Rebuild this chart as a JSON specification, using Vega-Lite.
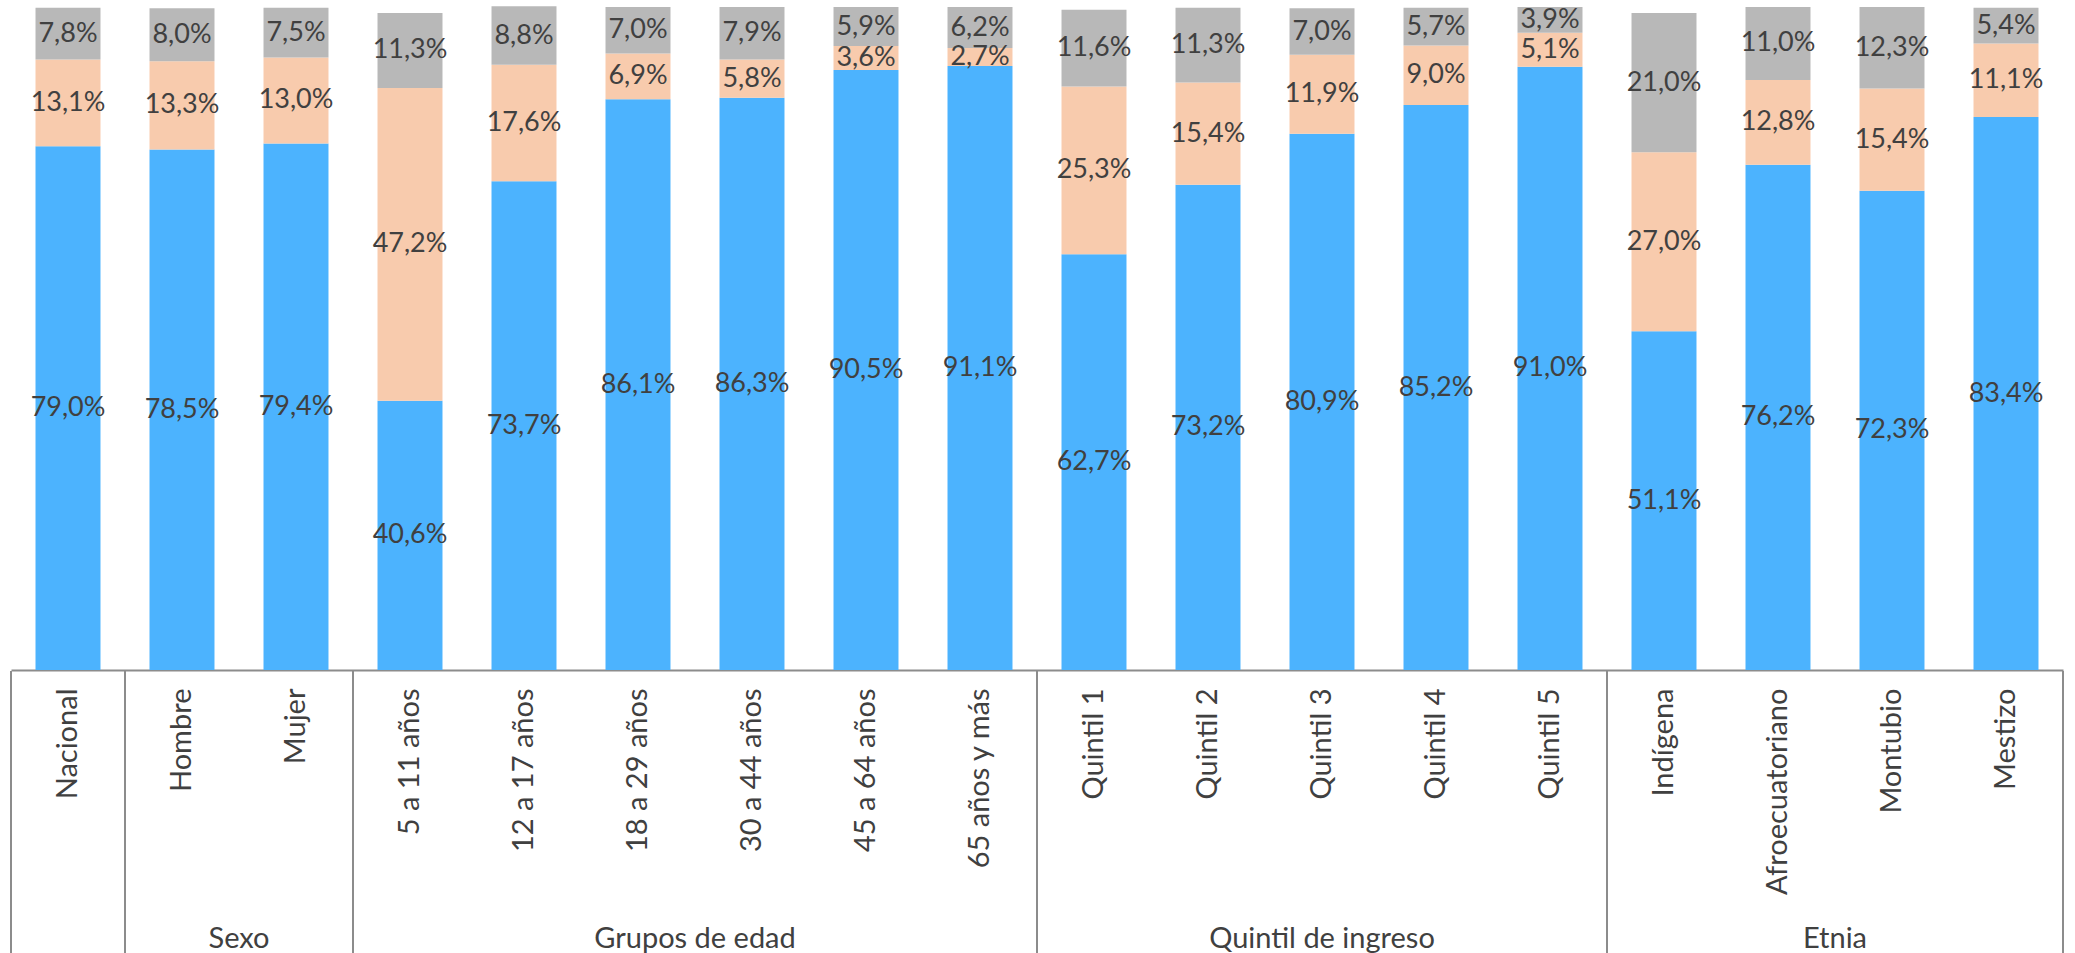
{
  "$schema": "https://vega.github.io/schema/vega-lite/v6.json",
  "padding": {"left": 10, "top": 5, "right": 13, "bottom": 0},
  "background": "white",
  "spacing": 0,
  "config": {"view": {"stroke": null}, "font": "Lato", "concat": {"spacing": 0}},
  "datasets": {
    "tabla": [
      {"categoria": "Nacional", "grupo": "", "s1": 79.0, "s2": 13.1, "s3": 7.8},
      {"categoria": "Hombre", "grupo": "Sexo", "s1": 78.5, "s2": 13.3, "s3": 8.0},
      {"categoria": "Mujer", "grupo": "Sexo", "s1": 79.4, "s2": 13.0, "s3": 7.5},
      {"categoria": "5 a 11 años", "grupo": "Grupos de edad", "s1": 40.6, "s2": 47.2, "s3": 11.3},
      {"categoria": "12 a 17 años", "grupo": "Grupos de edad", "s1": 73.7, "s2": 17.6, "s3": 8.8},
      {"categoria": "18 a 29 años", "grupo": "Grupos de edad", "s1": 86.1, "s2": 6.9, "s3": 7.0},
      {"categoria": "30 a 44 años", "grupo": "Grupos de edad", "s1": 86.3, "s2": 5.8, "s3": 7.9},
      {"categoria": "45 a 64 años", "grupo": "Grupos de edad", "s1": 90.5, "s2": 3.6, "s3": 5.9},
      {"categoria": "65 años y más", "grupo": "Grupos de edad", "s1": 91.1, "s2": 2.7, "s3": 6.2},
      {"categoria": "Quintil 1", "grupo": "Quintil de ingreso", "s1": 62.7, "s2": 25.3, "s3": 11.6},
      {"categoria": "Quintil 2", "grupo": "Quintil de ingreso", "s1": 73.2, "s2": 15.4, "s3": 11.3},
      {"categoria": "Quintil 3", "grupo": "Quintil de ingreso", "s1": 80.9, "s2": 11.9, "s3": 7.0},
      {"categoria": "Quintil 4", "grupo": "Quintil de ingreso", "s1": 85.2, "s2": 9.0, "s3": 5.7},
      {"categoria": "Quintil 5", "grupo": "Quintil de ingreso", "s1": 91.0, "s2": 5.1, "s3": 3.9},
      {"categoria": "Indígena", "grupo": "Etnia", "s1": 51.1, "s2": 27.0, "s3": 21.0},
      {"categoria": "Afroecuatoriano", "grupo": "Etnia", "s1": 76.2, "s2": 12.8, "s3": 11.0},
      {"categoria": "Montubio", "grupo": "Etnia", "s1": 72.3, "s2": 15.4, "s3": 12.3},
      {"categoria": "Mestizo", "grupo": "Etnia", "s1": 83.4, "s2": 11.1, "s3": 5.4}
    ]
  },
  "vconcat": [
    {
      "width": 2052,
      "height": 663,
      "data": {"name": "tabla"},
      "transform": [
        {"fold": ["s1", "s2", "s3"], "as": ["serie", "valor"]},
        {"stack": "valor", "groupby": ["categoria"], "sort": [{"field": "serie", "order": "ascending"}], "as": ["v0", "v1"]},
        {"calculate": "(datum.v0 + datum.v1) / 2", "as": "medio"},
        {"calculate": "replace(format(datum.valor, '.1f'), '.', ',') + '%'", "as": "etiqueta"}
      ],
      "encoding": {
        "x": {
          "field": "categoria",
          "type": "nominal",
          "scale": {
            "domain": ["Nacional", "Hombre", "Mujer", "5 a 11 años", "12 a 17 años", "18 a 29 años", "30 a 44 años", "45 a 64 años", "65 años y más", "Quintil 1", "Quintil 2", "Quintil 3", "Quintil 4", "Quintil 5", "Indígena", "Afroecuatoriano", "Montubio", "Mestizo"],
            "paddingInner": 0.43,
            "paddingOuter": 0.215
          },
          "axis": {"labels": false, "ticks": false, "domain": true, "domainColor": "#8C8C8C", "domainWidth": 2, "title": null, "grid": false}
        }
      },
      "layer": [
        {
          "mark": {"type": "bar"},
          "encoding": {
            "y": {"field": "v0", "type": "quantitative", "scale": {"domain": [0, 100], "nice": false}, "axis": null},
            "y2": {"field": "v1"},
            "color": {"field": "serie", "type": "nominal", "scale": {"domain": ["s1", "s2", "s3"], "range": ["#4CB3FE", "#F8CBAD", "#B8B8B8"]}, "legend": null}
          }
        },
        {
          "mark": {"type": "text", "fontSize": 27, "color": "#404040", "font": "Lato", "baseline": "middle"},
          "encoding": {
            "y": {"field": "medio", "type": "quantitative"},
            "text": {"field": "etiqueta"}
          }
        }
      ]
    },
    {
      "width": 2052,
      "height": 285,
      "data": {"name": "tabla"},
      "transform": [{"window": [{"op": "row_number", "as": "orden"}]}],
      "layer": [
        {
          "transform": [
            {"window": [{"op": "row_number", "as": "pos_grupo"}], "groupby": ["grupo"], "sort": [{"field": "orden", "order": "ascending"}]},
            {"filter": "datum.pos_grupo === 1"}
          ],
          "mark": {"type": "rule", "color": "#8C8C8C", "strokeWidth": 2},
          "encoding": {
            "x": {
              "field": "categoria", "type": "nominal", "bandPosition": 0,
              "scale": {
                "domain": ["Nacional", "Hombre", "Mujer", "5 a 11 años", "12 a 17 años", "18 a 29 años", "30 a 44 años", "45 a 64 años", "65 años y más", "Quintil 1", "Quintil 2", "Quintil 3", "Quintil 4", "Quintil 5", "Indígena", "Afroecuatoriano", "Montubio", "Mestizo"],
                "paddingInner": 0, "paddingOuter": 0
              },
              "axis": null
            }
          }
        },
        {
          "transform": [
            {"window": [{"op": "row_number", "as": "pos_fin"}], "groupby": ["grupo"], "sort": [{"field": "orden", "order": "descending"}]},
            {"filter": "datum.pos_fin === 1"}
          ],
          "mark": {"type": "rule", "color": "#8C8C8C", "strokeWidth": 2},
          "encoding": {
            "x": {
              "field": "categoria", "type": "nominal", "bandPosition": 1,
              "scale": {
                "domain": ["Nacional", "Hombre", "Mujer", "5 a 11 años", "12 a 17 años", "18 a 29 años", "30 a 44 años", "45 a 64 años", "65 años y más", "Quintil 1", "Quintil 2", "Quintil 3", "Quintil 4", "Quintil 5", "Indígena", "Afroecuatoriano", "Montubio", "Mestizo"],
                "paddingInner": 0, "paddingOuter": 0
              },
              "axis": null
            }
          }
        },
        {
          "mark": {"type": "text", "angle": 270, "align": "right", "baseline": "middle", "fontSize": 29, "color": "#404040", "font": "Lato"},
          "encoding": {
            "x": {
              "field": "categoria", "type": "nominal",
              "scale": {
                "domain": ["Nacional", "Hombre", "Mujer", "5 a 11 años", "12 a 17 años", "18 a 29 años", "30 a 44 años", "45 a 64 años", "65 años y más", "Quintil 1", "Quintil 2", "Quintil 3", "Quintil 4", "Quintil 5", "Indígena", "Afroecuatoriano", "Montubio", "Mestizo"],
                "paddingInner": 0, "paddingOuter": 0
              },
              "axis": null
            },
            "y": {"datum": "Categoría", "type": "nominal", "scale": {"type": "point", "domain": ["Categoría", "Grupo"], "padding": 0.07}, "axis": null},
            "text": {"field": "categoria"}
          }
        },
        {
          "transform": [{"filter": "datum.grupo !== ''"}],
          "mark": {"type": "text", "align": "center", "baseline": "middle", "fontSize": 29, "color": "#404040", "font": "Lato"},
          "encoding": {
            "x": {"aggregate": "mean", "field": "orden", "type": "quantitative", "scale": {"domain": [0.5, 18.5], "nice": false, "zero": false}, "axis": null},
            "y": {"datum": "Grupo", "type": "nominal", "axis": null},
            "text": {"field": "grupo"}
          }
        }
      ],
      "resolve": {"scale": {"x": "independent"}}
    }
  ]
}
